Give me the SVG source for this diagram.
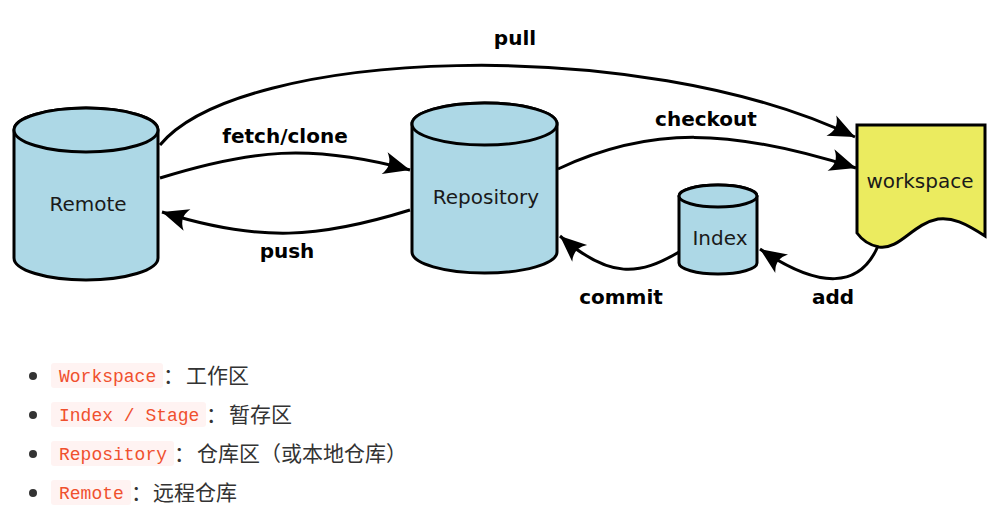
<svg xmlns="http://www.w3.org/2000/svg" width="1004" height="524" viewBox="0 0 1004 524">
  <style>
    .store { fill: #add8e6; stroke: #000; stroke-width: 3; }
    .flow { fill: none; stroke: #000; stroke-width: 3; marker-end: url(#head); }
    .name { font-family: "DejaVu Sans", sans-serif; font-size: 20px; fill: #1a1a1a; text-anchor: middle; }
    .verb { font-family: "DejaVu Sans", sans-serif; font-size: 20px; font-weight: bold; fill: #000; text-anchor: middle; }
    .chip { fill: #fff3f2; }
    .code { font-family: "Liberation Mono", "DejaVu Sans Mono", monospace; font-size: 18px; fill: #f0502e; }
    .desc { font-family: "Noto Sans CJK SC", "Noto Sans", sans-serif; font-size: 21px; fill: #333; }
  </style>
  <defs>
    <marker id="head" markerUnits="userSpaceOnUse" markerWidth="30" markerHeight="30" viewBox="-22 -11 24 22" refX="0" refY="0" orient="auto">
      <path d="M0,0 L-21,-9 Q-14,0 -21,9 Z" fill="#000"/>
    </marker>
  </defs>
  <rect width="1004" height="524" fill="#fff"/>

  <!-- connectors -->
  <g id="connectors">
    <path class="flow" d="M160,145 C240,48 640,33 855,137"/>
    <path class="flow" d="M160,178 C250,150 310,143 410,170"/>
    <path class="flow" d="M410,210 C320,238 260,243 162,212"/>
    <path class="flow" d="M558,169 C650,126 730,128 856,168"/>
    <path class="flow" d="M679,252 C640,275 610,280 560,236"/>
    <path class="flow" d="M878,246 C860,288 820,290 760,249"/>
    <text class="verb" x="515" y="45">pull</text>
    <text class="verb" x="285" y="143">fetch/clone</text>
    <text class="verb" x="287" y="258">push</text>
    <text class="verb" x="706" y="126">checkout</text>
    <text class="verb" x="621" y="304">commit</text>
    <text class="verb" x="833" y="304">add</text>
  </g>

  <!-- remote repository -->
  <g id="remote">
    <path class="store" d="M14,130 L14,258 A72,22 0 0 0 158,258 L158,130 A72,22 0 0 0 14,130 Z"/>
    <ellipse class="store" cx="86" cy="130" rx="72" ry="22"/>
    <text class="name" x="88" y="211">Remote</text>
  </g>

  <!-- local repository -->
  <g id="repository">
    <path class="store" d="M412,124 L412,252 A72.5,21 0 0 0 557,252 L557,124 A72.5,21 0 0 0 412,124 Z"/>
    <ellipse class="store" cx="484.5" cy="124" rx="72.5" ry="21"/>
    <text class="name" x="486" y="204">Repository</text>
  </g>

  <!-- staging index -->
  <g id="index">
    <path class="store" d="M679,196 L679,263 A39,11 0 0 0 757,263 L757,196 A39,11 0 0 0 679,196 Z"/>
    <ellipse class="store" cx="718" cy="196" rx="39" ry="11"/>
    <text class="name" x="720" y="245">Index</text>
  </g>

  <!-- working directory -->
  <g id="workspace">
    <path d="M857,125 L985,125 L985,236 C965,223 952,217 938,219 C912,224 900,250 879,247 C868,245 862,240 857,233 Z" fill="#ebeb5f" stroke="#000" stroke-width="3" stroke-linejoin="miter"/>
    <text class="name" x="920" y="188">workspace</text>
  </g>

  <!-- legend list -->
  <g id="legend">
    <circle cx="33" cy="376" r="4" fill="#333"/>
    <rect class="chip" x="51" y="363" width="112" height="25" rx="3"/>
    <text class="code" x="59" y="382">Workspace</text>
    <text class="desc" x="163" y="383">：</text>
    <text class="desc" x="186" y="383">工作区</text>

    <circle cx="33" cy="415" r="4" fill="#333"/>
    <rect class="chip" x="51" y="402" width="155" height="25" rx="3"/>
    <text class="code" x="59" y="421">Index / Stage</text>
    <text class="desc" x="206" y="422">：</text>
    <text class="desc" x="229" y="422">暂存区</text>

    <circle cx="33" cy="454" r="4" fill="#333"/>
    <rect class="chip" x="51" y="441" width="123" height="25" rx="3"/>
    <text class="code" x="59" y="460">Repository</text>
    <text class="desc" x="174" y="461">：</text>
    <text class="desc" x="197" y="461">仓库区（或本地仓库）</text>

    <circle cx="33" cy="493" r="4" fill="#333"/>
    <rect class="chip" x="51" y="480" width="80" height="25" rx="3"/>
    <text class="code" x="59" y="499">Remote</text>
    <text class="desc" x="131" y="500">：</text>
    <text class="desc" x="153" y="500">远程仓库</text>
  </g>
</svg>
